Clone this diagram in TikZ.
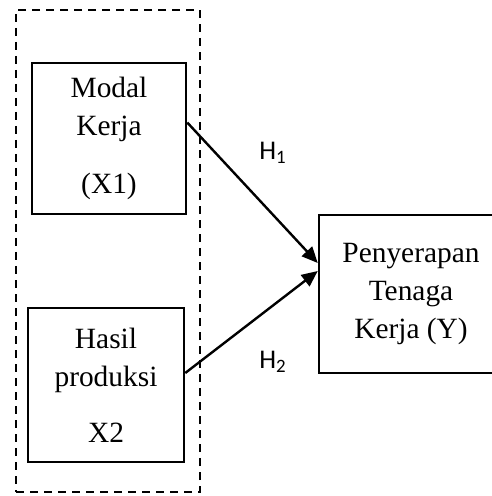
\documentclass[tikz,border=0pt]{standalone}
\usepackage{fontspec}
\setmainfont{Liberation Serif}
\newfontfamily\calfont{Carlito}
\usetikzlibrary{arrows.meta}

\begin{document}
\begin{tikzpicture} [
        x = 0.5pt, y = -0.5pt,
        every node/.style = {align=center, inner sep=0pt,
                     font=\fontsize{14.7}{19}\selectfont},
        box/.style = {rectangle, draw, line width=1.25pt,
                     minimum width=#1},% width
        grp/.style = {rectangle, draw, line width=1.25pt,
                     dash pattern=on 4pt off 3pt},
        lbl/.style = {rectangle, draw=none,
                     font=\calfont\fontsize{13.5}{16}\selectfont},
        arr/.style = {line width=1.2pt, -{Triangle[length=8pt, width=7pt]}}
    ]
    \useasboundingbox (0,0) rectangle (491,496);

    % outer group
    \node (Group) [grp, minimum width=92pt, minimum height=241pt] at (108,251) {};

    % variables
    \node (Modal) [box=77pt, minimum height=75.5pt] at (109,138.5)
          {Modal\\Kerja\\[10pt](X1)};
    \node (Hasil) [box=78pt, minimum height=77pt] at (106,385)
          {Hasil\\produksi\\[9pt]X2};
    \node (Tenaga) [box=92pt, minimum height=79pt] at (411,294)
          {Penyerapan\\Tenaga\\Kerja (Y)};

    % paths
    \draw [arr] ([yshift=8pt]Modal.east) -- ([yshift=15.5pt]Tenaga.west);
    \draw [arr] ([yshift=6pt]Hasil.east) -- ([yshift=11.5pt]Tenaga.west);

    \node (H1) [lbl] at (273,153) {H\textsubscript{1}};
    \node (H2) [lbl] at (273,362) {H\textsubscript{2}};
\end{tikzpicture}
\end{document}
